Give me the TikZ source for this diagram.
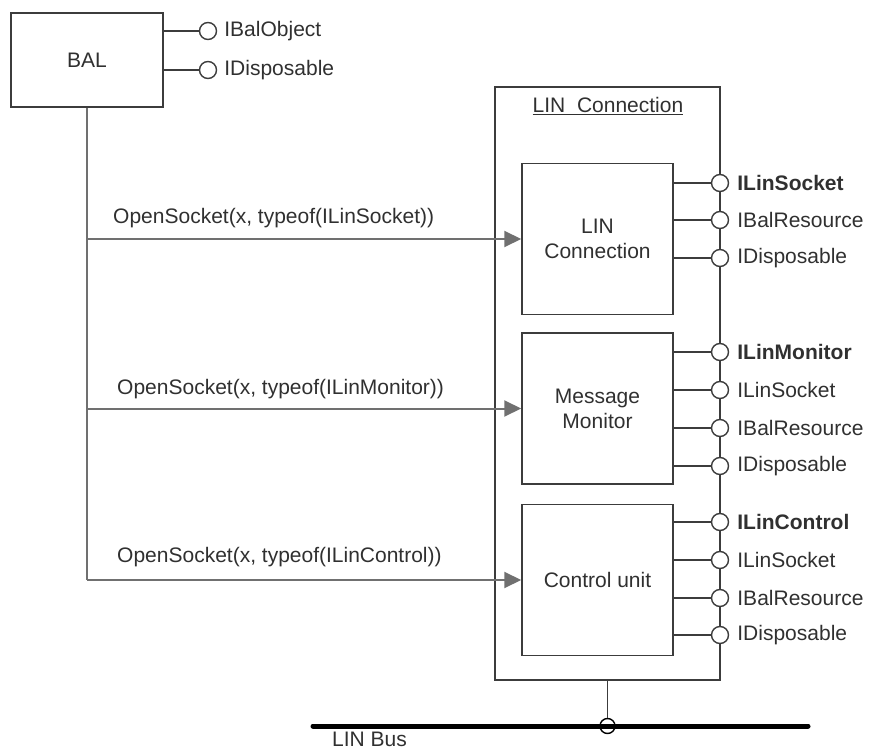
\documentclass[tikz,border=0pt]{standalone}
\usepackage{fontspec}
\setmainfont{Liberation Sans}
\usetikzlibrary{arrows.meta}
\definecolor{linegray}{HTML}{3C3C3C}
\definecolor{arrowgray}{HTML}{707070}
\definecolor{textgray}{HTML}{303030}
\begin{document}
\begin{tikzpicture}[x=1pt,y=-1pt,
  txt/.style={font=\fontsize{21}{25}\selectfont, text=textgray},
  box/.style={draw=linegray, line width=1.5pt, fill=white, inner sep=0pt,
    align=center, txt},
  inner/.style={box, minimum width=151pt, minimum height=151pt},
  lolly/.style={circle, draw=linegray, line width=1.4pt, fill=white,
    inner sep=0pt, minimum size=17pt},
  smalllolly/.style={lolly, minimum size=17pt},
  ilabel/.style={txt, inner sep=0pt},
  stem/.style={draw=linegray, line width=1.4pt},
  call/.style={draw=arrowgray, line width=2pt,
    -{Triangle[length=17pt,width=16pt]}},
  trunk/.style={draw=arrowgray, line width=2pt},
  clabel/.style={txt, anchor=base west, inner sep=0pt}
]
\useasboundingbox (0,0) rectangle (872,751);

% BAL component and its interfaces
\node[box, minimum width=152pt, minimum height=94pt] (bal) at (87,60) {BAL};
\node[smalllolly, label={[ilabel, label distance=7pt]right:IBalObject}] (bo) at (208,31) {};
\node[smalllolly, label={[ilabel, label distance=7pt]right:IDisposable}] (bd) at (208,70) {};
\draw[stem] (bal.east |- bo) -- (bo);
\draw[stem] (bal.east |- bd) -- (bd);

% LIN connection container
\node[draw=linegray, line width=1.5pt, minimum width=225pt, minimum height=593pt,
  inner sep=0pt] (lin) at (607.5,383.5) {};
\node[txt, anchor=base] (title) at (608,113) {\underline{LIN\ \ Connection}};

% inner components
\node[inner] (c1) at (597.5,239) {LIN\\Connection};
\node[inner] (c2) at (597.5,408.5) {Message\\Monitor};
\node[inner] (c3) at (597.5,580) {Control unit};

% interfaces of the inner components
\foreach \n/\y/\t/\c in {
  a1/183/\bfseries ILinSocket/c1, a2/220/IBalResource/c1, a3/258/IDisposable/c1,
  b1/352/\bfseries ILinMonitor/c2, b2/390/ILinSocket/c2, b3/428/IBalResource/c2, b4/466/IDisposable/c2,
  d1/522/\bfseries ILinControl/c3, d2/560/ILinSocket/c3, d3/598/IBalResource/c3, d4/635/IDisposable/c3}{
  \coordinate (\n) at (720,\y);
  \draw[stem] (\c.east |- \n) -- (\n);
  \node[lolly, label={[ilabel, label distance=8pt]right:\t}] (\n o) at (\n) {};
}

% calls from BAL
\coordinate (t1) at (bal.south |- c1.west);
\coordinate (t2) at (bal.south |- c2.west);
\coordinate (t3) at (bal.south |- c3.west);
\draw[trunk] (bal.south) -- (t3);
\draw[call] (t1) -- (c1.west);
\draw[call] (t2) -- (c2.west);
\draw[call] (t3) -- (c3.west);
\node[clabel] (l1) at (113,224) {OpenSocket(x, typeof(ILinSocket))};
\node[clabel] (l2) at (117,394) {OpenSocket(x, typeof(ILinMonitor))};
\node[clabel] (l3) at (117,562) {OpenSocket(x, typeof(ILinControl))};

% LIN bus
\coordinate (busl) at (313,726);
\coordinate (busr) at (808,726);
\node[circle, draw=black, line width=1.4pt, fill=white, minimum size=15pt,
  inner sep=0pt] (tap) at (lin.south |- busl) {};
\draw[linegray, line width=1.4pt] (lin.south) -- (tap.north);
\draw[black, line width=5pt, line cap=round] (busl) -- (busr);
\node[txt, anchor=base west, inner sep=0pt] (bus) at (332,746) {LIN Bus};
\end{tikzpicture}
\end{document}
